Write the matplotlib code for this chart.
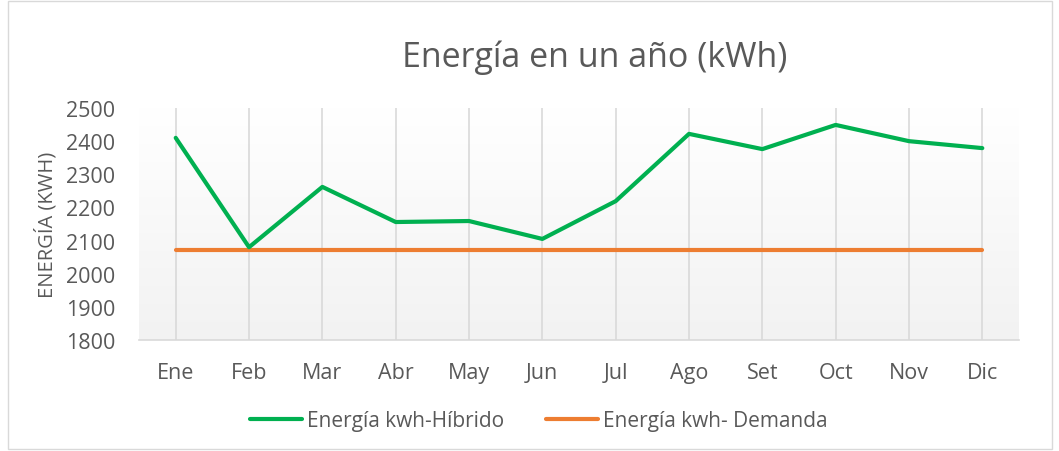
import numpy as np
import matplotlib
matplotlib.use('Agg')
import matplotlib.pyplot as plt
from matplotlib.colors import LinearSegmentedColormap
from matplotlib.patches import Rectangle

plt.rcParams['font.family'] = ['Open Sans', 'DejaVu Sans']

months = ['Ene', 'Feb', 'Mar', 'Abr', 'May', 'Jun', 'Jul', 'Ago', 'Set', 'Oct', 'Nov', 'Dic']
hibrido = [2410, 2080, 2262, 2156, 2159, 2105, 2219, 2422, 2376, 2449, 2400, 2379]
demanda = [2072] * 12

txt = '#595959'
fig = plt.figure(figsize=(10.59, 4.52), dpi=100)
ax = fig.add_axes([0.1313, 0.2456, 0.8309, 0.5132])

x = np.arange(len(months))
# background gradient, white at top to light gray at bottom
cmap = LinearSegmentedColormap.from_list('bg', ['#f2f2f2', '#ffffff'])
grad = np.linspace(0, 1, 256).reshape(-1, 1)
ax.imshow(grad, aspect='auto', cmap=cmap, origin='lower',
          extent=[-0.5, 11.5, 1800, 2500], zorder=0)

for xi in x:
    ax.axvline(xi, color='#d9d9d9', lw=1.2, zorder=1)

ax.plot(x, hibrido, color='#00b050', lw=3, label='Energía kwh-Híbrido', zorder=3,
        solid_capstyle='round')
ax.plot(x, demanda, color='#ed7d31', lw=3, label='Energía kwh- Demanda', zorder=2,
        solid_capstyle='round')

ax.set_xlim(-0.5, 11.5)
ax.set_ylim(1800, 2500)
ax.set_yticks(range(1800, 2501, 100))
ax.set_xticks(x)
ax.set_xticklabels(months)
for s in ['top', 'right', 'left']:
    ax.spines[s].set_visible(False)
ax.spines['bottom'].set_color('#d9d9d9')
ax.spines['bottom'].set_linewidth(1.2)
ax.tick_params(length=0, labelsize=15.5, colors=txt)
ax.tick_params(axis='x', pad=16)
ax.tick_params(axis='y', pad=17)
ax.set_ylabel('ENERGÍA (KWH)', fontsize=14.5, color=txt)
ax.yaxis.set_label_coords(-0.093, 0.5)

fig.text(0.562, 0.872, 'Energía en un año (kWh)', fontsize=24.5, color=txt,
         ha='center', va='center')

fig.legend(loc='center', bbox_to_anchor=(0.509, 0.067), ncol=2, frameon=False,
           fontsize=15, labelcolor=txt, handlelength=2.5, handletextpad=0.24,
           columnspacing=2.0)

fig.patches.append(Rectangle((0.008, 0.005), 0.985, 0.99, transform=fig.transFigure,
                             fill=False, edgecolor='#d9d9d9', lw=1))

plt.savefig('out.png', dpi=100)
plt.close()
